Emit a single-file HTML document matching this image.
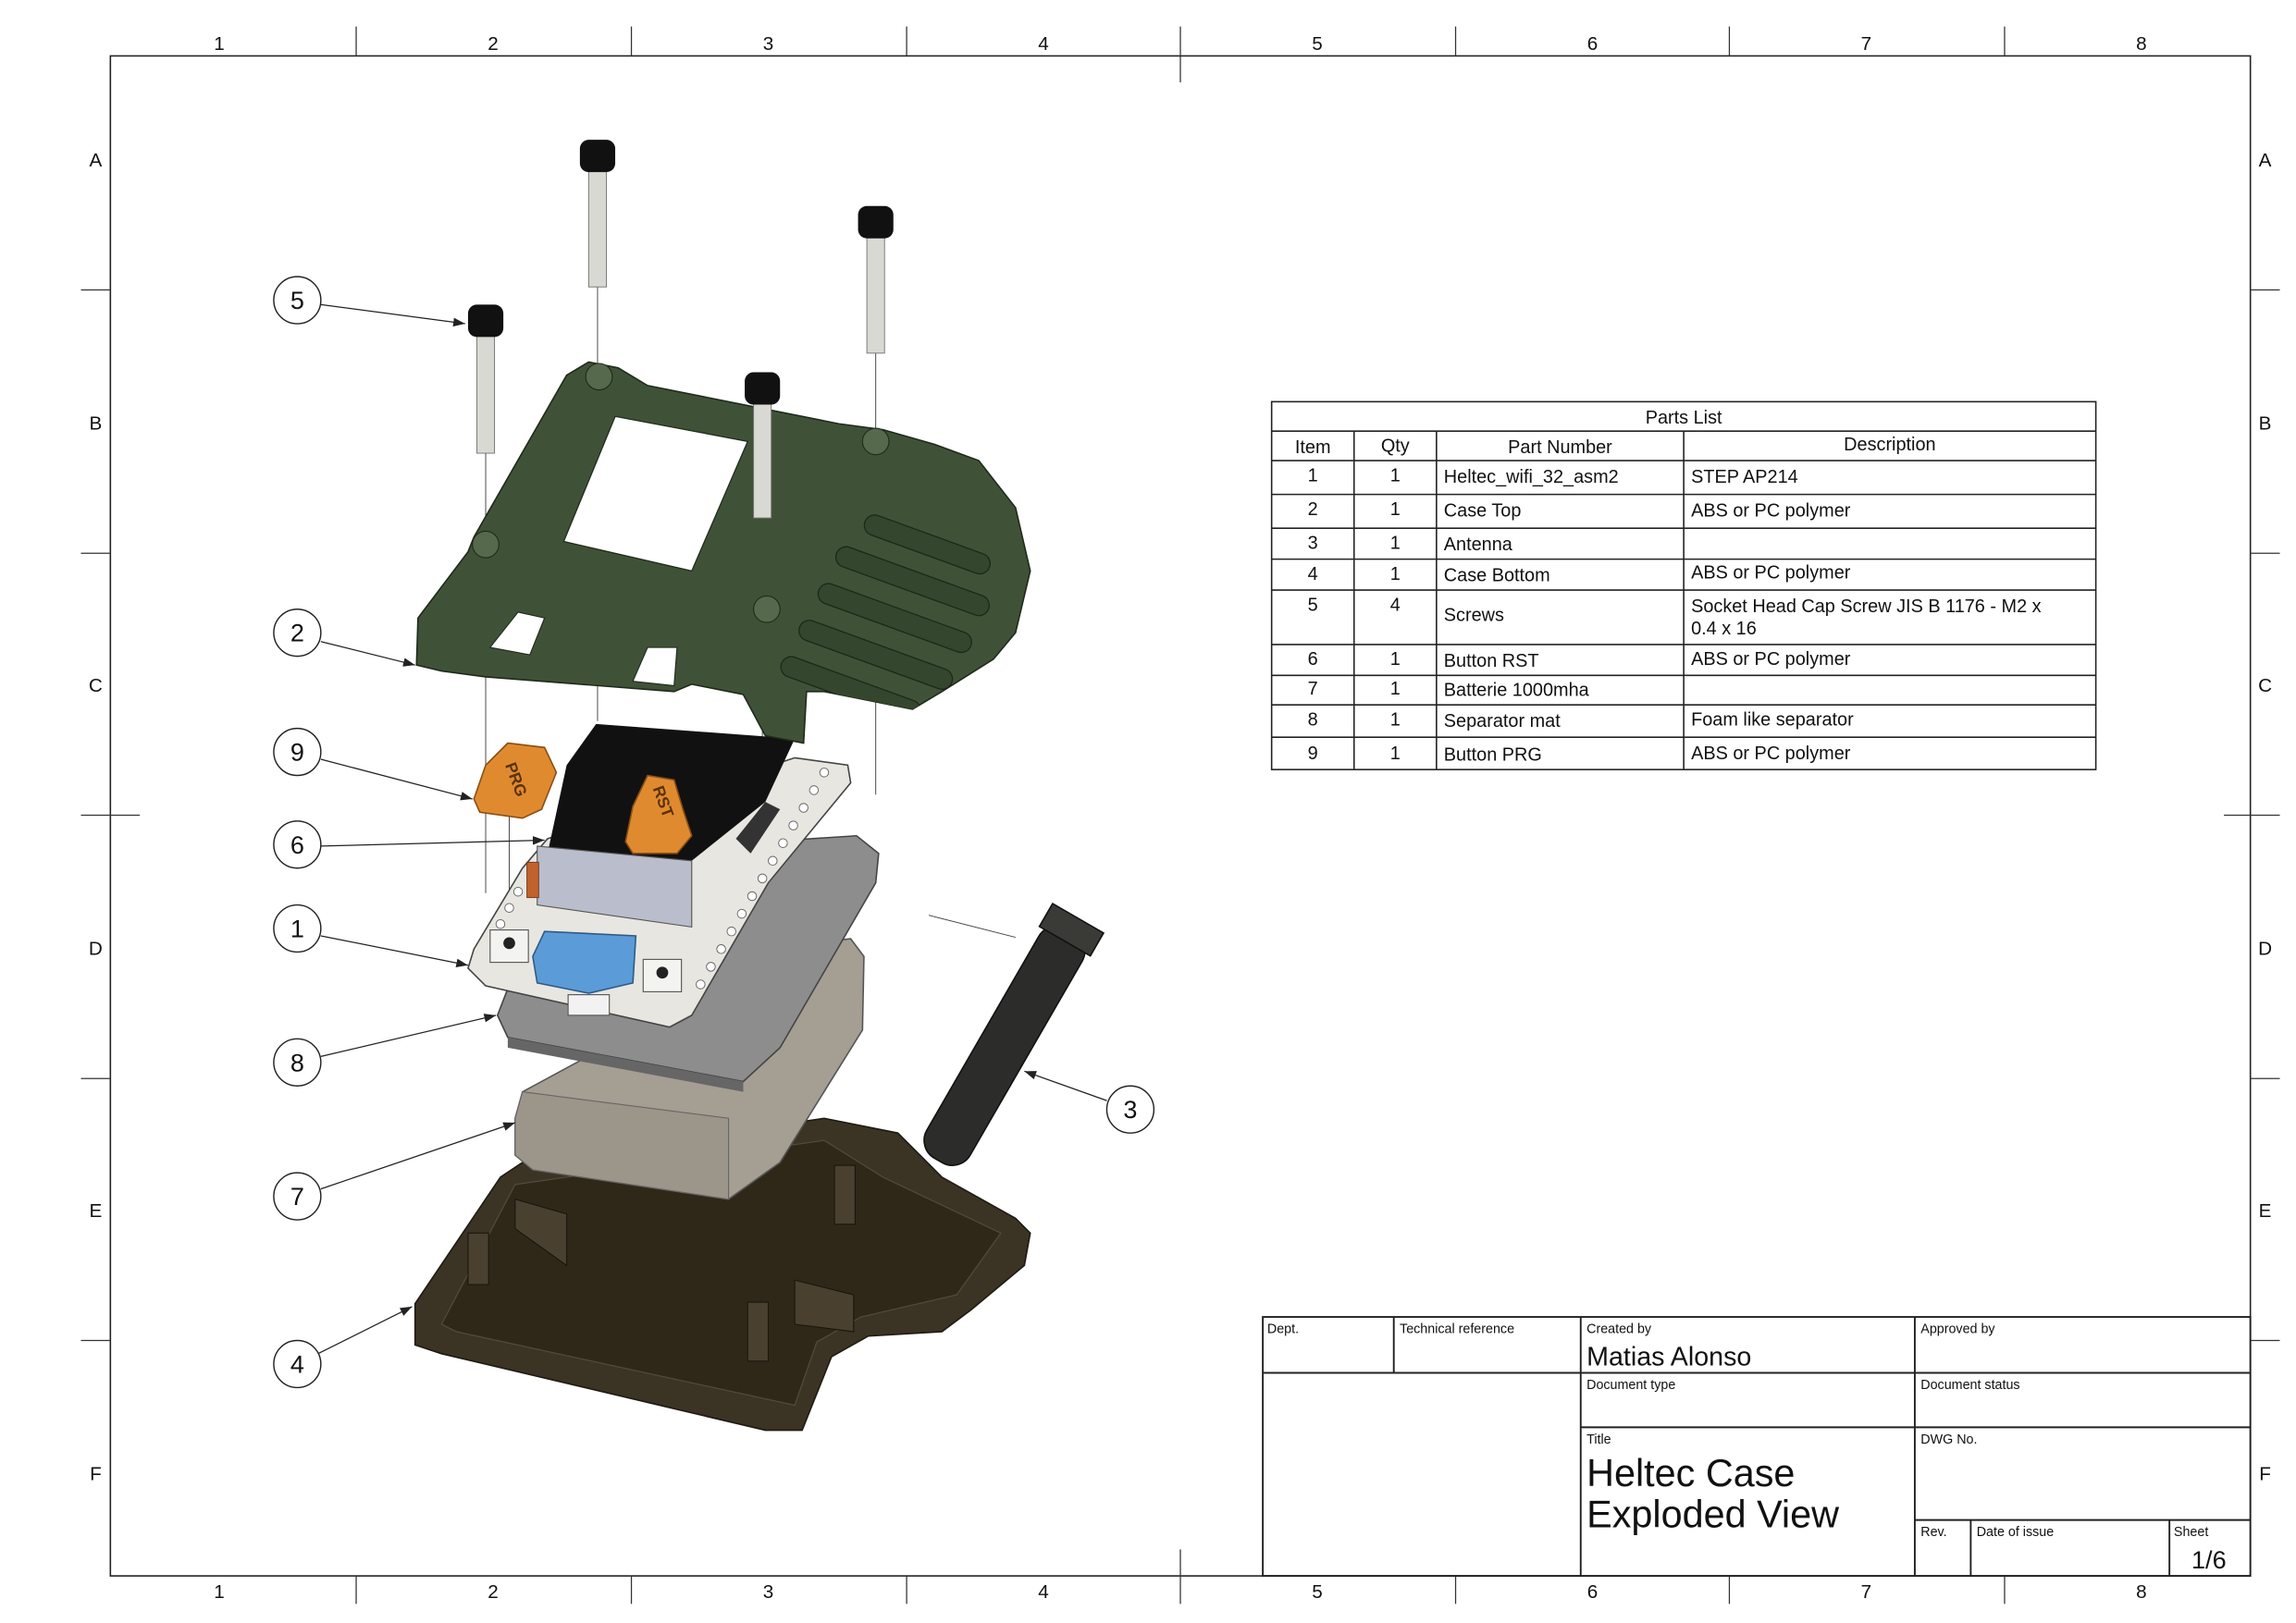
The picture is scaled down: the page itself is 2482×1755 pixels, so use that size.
<!DOCTYPE html>
<html><head><meta charset="utf-8"><style>html,body{margin:0;padding:0;background:#fff}svg{display:block}</style></head>
<body>
<svg width="2482" height="1755" viewBox="0 0 1560 1103" preserveAspectRatio="none" xmlns="http://www.w3.org/2000/svg" font-family="Liberation Sans, sans-serif">
<defs>
<marker id="ar" markerWidth="8" markerHeight="6" refX="8" refY="3" orient="auto" markerUnits="userSpaceOnUse"><path d="M0,0 L8,3 L0,6 Z" fill="#222"/></marker>
<clipPath id="ct"><path d="M283,452 L284,420 L318,375 L322,365 L385,255 L400,246 L420,250 L440,262 L570,288 L600,292 L635,302 L665,313 L690,345 L700,388 L690,430 L675,448 L640,470 L620,482 L590,476 L560,470 L548,470 L546,505 L520,500 L505,472 L470,465 L458,470 L330,460 L300,456 Z"/></clipPath>
</defs>
<rect width="1560" height="1103" fill="#fff"/>
<rect x="75" y="38" width="1454" height="1033" fill="none" stroke="#222" stroke-width="1"/>
<g stroke="#333" stroke-width="0.8">
<line x1="242" y1="18" x2="242" y2="38"/><line x1="429" y1="18" x2="429" y2="38"/><line x1="616" y1="18" x2="616" y2="38"/><line x1="802" y1="18" x2="802" y2="56"/><line x1="989" y1="18" x2="989" y2="38"/><line x1="1175" y1="18" x2="1175" y2="38"/><line x1="1362" y1="18" x2="1362" y2="38"/>
<line x1="242" y1="1071" x2="242" y2="1090"/><line x1="429" y1="1071" x2="429" y2="1090"/><line x1="616" y1="1071" x2="616" y2="1090"/><line x1="802" y1="1053" x2="802" y2="1090"/><line x1="989" y1="1071" x2="989" y2="1090"/><line x1="1175" y1="1071" x2="1175" y2="1090"/><line x1="1362" y1="1071" x2="1362" y2="1090"/>
<line x1="55" y1="197" x2="75" y2="197"/><line x1="55" y1="376" x2="75" y2="376"/><line x1="55" y1="554" x2="95" y2="554"/><line x1="55" y1="733" x2="75" y2="733"/><line x1="55" y1="911" x2="75" y2="911"/>
<line x1="1529" y1="197" x2="1549" y2="197"/><line x1="1529" y1="376" x2="1549" y2="376"/><line x1="1511" y1="554" x2="1549" y2="554"/><line x1="1529" y1="733" x2="1549" y2="733"/><line x1="1529" y1="911" x2="1549" y2="911"/>
</g>
<g font-size="13" fill="#111" text-anchor="middle">
<text x="149" y="34">1</text><text x="335" y="34">2</text><text x="522" y="34">3</text><text x="709" y="34">4</text><text x="895" y="34">5</text><text x="1082" y="34">6</text><text x="1268" y="34">7</text><text x="1455" y="34">8</text>
<text x="149" y="1086">1</text><text x="335" y="1086">2</text><text x="522" y="1086">3</text><text x="709" y="1086">4</text><text x="895" y="1086">5</text><text x="1082" y="1086">6</text><text x="1268" y="1086">7</text><text x="1455" y="1086">8</text>
<text x="65" y="113">A</text><text x="65" y="292">B</text><text x="65" y="470">C</text><text x="65" y="649">D</text><text x="65" y="827">E</text><text x="65" y="1006">F</text>
<text x="1539" y="113">A</text><text x="1539" y="292">B</text><text x="1539" y="470">C</text><text x="1539" y="649">D</text><text x="1539" y="827">E</text><text x="1539" y="1006">F</text>
</g>

<g stroke="#222" stroke-width="1" fill="none">
<rect x="864" y="273" width="560" height="250"/>
<line x1="864" y1="293" x2="1424" y2="293"/><line x1="864" y1="313" x2="1424" y2="313"/><line x1="864" y1="336" x2="1424" y2="336"/><line x1="864" y1="359" x2="1424" y2="359"/><line x1="864" y1="380" x2="1424" y2="380"/><line x1="864" y1="401" x2="1424" y2="401"/><line x1="864" y1="438" x2="1424" y2="438"/><line x1="864" y1="459" x2="1424" y2="459"/><line x1="864" y1="479" x2="1424" y2="479"/><line x1="864" y1="501" x2="1424" y2="501"/>
<line x1="920" y1="293" x2="920" y2="523"/><line x1="976" y1="293" x2="976" y2="523"/><line x1="1144" y1="293" x2="1144" y2="523"/>
</g>
<g font-size="12.5" fill="#111">
<text x="1144" y="288" text-anchor="middle">Parts List</text>
<text x="892" y="308" text-anchor="middle">Item</text><text x="948" y="307" text-anchor="middle">Qty</text><text x="1060" y="308" text-anchor="middle">Part Number</text><text x="1284" y="306" text-anchor="middle">Description</text>
<g text-anchor="middle"><text x="892" y="327">1</text><text x="892" y="350">2</text><text x="892" y="373">3</text><text x="892" y="394">4</text><text x="892" y="415">5</text><text x="892" y="452">6</text><text x="892" y="472">7</text><text x="892" y="493">8</text><text x="892" y="516">9</text>
<text x="948" y="327">1</text><text x="948" y="350">1</text><text x="948" y="373">1</text><text x="948" y="394">1</text><text x="948" y="415">4</text><text x="948" y="452">1</text><text x="948" y="472">1</text><text x="948" y="493">1</text><text x="948" y="516">1</text></g>
<text x="981" y="328">Heltec_wifi_32_asm2</text><text x="981" y="351">Case Top</text><text x="981" y="374">Antenna</text><text x="981" y="395">Case Bottom</text><text x="981" y="422">Screws</text><text x="981" y="453">Button RST</text><text x="981" y="473">Batterie 1000mha</text><text x="981" y="494">Separator mat</text><text x="981" y="517">Button PRG</text>
<text x="1149" y="328">STEP AP214</text><text x="1149" y="351">ABS or PC polymer</text><text x="1149" y="393">ABS or PC polymer</text><text x="1149" y="416">Socket Head Cap Screw JIS B 1176 - M2 x</text><text x="1149" y="431">0.4 x 16</text><text x="1149" y="452">ABS or PC polymer</text><text x="1149" y="493">Foam like separator</text><text x="1149" y="516">ABS or PC polymer</text>
</g>

<g stroke="#222" stroke-width="1.2" fill="none">
<rect x="858" y="895" width="671" height="176"/>
<line x1="858" y1="933" x2="1529" y2="933"/><line x1="1074" y1="970" x2="1529" y2="970"/>
<line x1="947" y1="895" x2="947" y2="933"/><line x1="1074" y1="895" x2="1074" y2="1071"/><line x1="1301" y1="895" x2="1301" y2="1071"/>
<line x1="1301" y1="1033" x2="1529" y2="1033"/><line x1="1339" y1="1033" x2="1339" y2="1071"/><line x1="1474" y1="1033" x2="1474" y2="1071"/>
</g>
<g fill="#111" font-size="9">
<text x="861" y="906">Dept.</text><text x="951" y="906">Technical reference</text><text x="1078" y="906">Created by</text><text x="1305" y="906">Approved by</text>
<text x="1078" y="944">Document type</text><text x="1305" y="944">Document status</text><text x="1078" y="981">Title</text><text x="1305" y="981">DWG No.</text>
<text x="1305" y="1044">Rev.</text><text x="1343" y="1044">Date of issue</text><text x="1477" y="1044">Sheet</text>
<text x="1078" y="928" font-size="18">Matias Alonso</text>
<text x="1078" y="1010" font-size="26">Heltec Case</text><text x="1078" y="1038" font-size="26">Exploded View</text>
<text x="1489" y="1066" font-size="17">1/6</text>
</g>

<g stroke="#444" stroke-width="0.6">
<line x1="330" y1="308" x2="330" y2="607"/><line x1="406" y1="195" x2="406" y2="490"/><line x1="595" y1="240" x2="595" y2="540"/><line x1="518" y1="352" x2="518" y2="525"/><line x1="346" y1="555" x2="346" y2="610"/><line x1="465" y1="580" x2="465" y2="640"/><line x1="493" y1="810" x2="493" y2="860"/><line x1="631" y1="622" x2="690" y2="637"/>
</g>

<!-- case bottom -->
<path d="M282,886 L340,800 L355,790 L560,760 L610,770 L640,800 L690,828 L700,838 L696,860 L660,890 L640,905 L590,908 L565,922 L545,972 L520,972 L300,920 L282,914 Z" fill="#3b3324" stroke="#1e1a12"/>
<path d="M300,900 L350,805 L560,775 L600,800 L680,838 L650,880 L585,895 L555,912 L540,955 L310,905 Z" fill="#2f2819" stroke="#54493a" stroke-width="0.8"/>
<g fill="#4a4030" stroke="#1a160e" stroke-width="0.7">
<rect x="318" y="838" width="14" height="35"/><rect x="508" y="885" width="14" height="40"/><rect x="567" y="792" width="14" height="40"/>
<polygon points="350,815 385,825 385,860 350,835"/><polygon points="540,870 580,880 580,905 540,900"/>
</g>

<!-- battery -->
<path d="M350,760 L355,742 L540,642 L578,638 L587,650 L586,700 L530,790 L495,815 L362,795 L350,785 Z" fill="#a49e93" stroke="#555"/>
<path d="M355,742 L495,760 L495,815 L362,795 L350,785 L350,760 Z" fill="#9c958a" stroke="#666" stroke-width="0.7"/>

<!-- mat -->
<path d="M338,690 L345,672 L520,572 L582,568 L597,580 L595,600 L530,712 L505,735 L345,705 Z" fill="#8d8d8d" stroke="#444"/>
<path d="M345,705 L505,735 L505,742 L345,712 Z" fill="#666"/>

<!-- PCB -->
<path d="M318,658 L322,645 L355,590 L372,570 L540,515 L576,520 L578,532 L522,600 L470,690 L455,698 L330,670 Z" fill="#e8e6e0" stroke="#444"/>
<path d="M372,580 L385,520 L405,492 L540,502 L520,545 L470,585 Z" fill="#111"/>
<path d="M365,575 L470,585 L470,630 L365,615 Z" fill="#b9bdcc" stroke="#555" stroke-width="0.7"/>
<path d="M500,570 L520,545 L530,550 L510,580 Z" fill="#333"/>
<g fill="#fff" stroke="#666" stroke-width="0.6">
<circle cx="560" cy="525" r="3"/><circle cx="553" cy="537" r="3"/><circle cx="546" cy="549" r="3"/><circle cx="539" cy="561" r="3"/><circle cx="532" cy="573" r="3"/><circle cx="525" cy="585" r="3"/><circle cx="518" cy="597" r="3"/><circle cx="511" cy="609" r="3"/><circle cx="504" cy="621" r="3"/><circle cx="497" cy="633" r="3"/><circle cx="490" cy="645" r="3"/><circle cx="483" cy="657" r="3"/><circle cx="476" cy="669" r="3"/>
<circle cx="340" cy="628" r="3"/><circle cx="346" cy="617" r="3"/><circle cx="352" cy="606" r="3"/>
</g>
<rect x="358" y="586" width="8" height="24" fill="#c0622e" stroke="#7a3a18" stroke-width="0.6"/>
<rect x="333" y="632" width="26" height="22" fill="#f3f3f0" stroke="#555" stroke-width="0.7"/><circle cx="346" cy="641" r="4" fill="#222"/>
<rect x="437" y="652" width="26" height="22" fill="#f3f3f0" stroke="#555" stroke-width="0.7"/><circle cx="450" cy="661" r="4" fill="#222"/>
<path d="M362,650 L370,633 L432,636 L430,668 L400,675 L365,668 Z" fill="#5b9bd8" stroke="#2e5a88"/>
<rect x="386" y="676" width="28" height="14" fill="#f2f2f2" stroke="#555" stroke-width="0.7"/>

<!-- antenna -->
<g transform="translate(680,715) rotate(30)">
<rect x="-17" y="-95" width="34" height="180" rx="14" fill="#2c2c2a" stroke="#111"/>
<rect x="-20" y="-105" width="40" height="18" fill="#3a3a36" stroke="#111"/>
</g>

<!-- case top -->
<path d="M283,452 L284,420 L318,375 L322,365 L385,255 L400,246 L420,250 L440,262 L570,288 L600,292 L635,302 L665,313 L690,345 L700,388 L690,430 L675,448 L640,470 L620,482 L590,476 L560,470 L548,470 L546,505 L520,500 L505,472 L470,465 L458,470 L330,460 L300,456 Z" fill="#3f5237" stroke="#1f2a1b"/>
<path d="M383,368 L418,283 L508,300 L470,388 Z" fill="#fff" stroke="#1f2a1b" stroke-width="0.8"/>
<path d="M333,440 L352,416 L370,420 L360,445 Z" fill="#fff" stroke="#1f2a1b" stroke-width="0.7"/>
<path d="M430,463 L440,440 L460,440 L458,466 Z" fill="#fff" stroke="#1f2a1b" stroke-width="0.7"/>
<g fill="#34462e" stroke="#1d2719" stroke-width="0.8" clip-path="url(#ct)">
<rect x="-45" y="-7" width="90" height="14" rx="7" transform="translate(630,370) rotate(20)"/>
<rect x="-55" y="-7" width="110" height="14" rx="7" transform="translate(620,395) rotate(20)"/>
<rect x="-55" y="-7" width="110" height="14" rx="7" transform="translate(608,420) rotate(20)"/>
<rect x="-55" y="-7" width="110" height="14" rx="7" transform="translate(595,445) rotate(20)"/>
<rect x="-50" y="-7" width="100" height="14" rx="7" transform="translate(578,468) rotate(20)"/>
</g>
<g fill="#56694d" stroke="#1f2a1b" stroke-width="0.7"><circle cx="407" cy="256" r="9"/><circle cx="330" cy="370" r="9"/><circle cx="595" cy="300" r="9"/><circle cx="521" cy="414" r="9"/></g>

<g fill="#d9d9d4" stroke="#777" stroke-width="0.6">
<rect x="400" y="115" width="12" height="80"/><rect x="324" y="226" width="12" height="82"/><rect x="589" y="160" width="12" height="80"/><rect x="512" y="272" width="12" height="80"/>
</g>
<g fill="#111"><rect x="394" y="95" width="24" height="22" rx="6"/><rect x="318" y="207" width="24" height="22" rx="6"/><rect x="583" y="140" width="24" height="22" rx="6"/><rect x="506" y="253" width="24" height="22" rx="6"/></g>

<path d="M322,543 L330,520 L345,505 L370,508 L378,525 L368,550 L355,556 L326,552 Z" fill="#e08a30" stroke="#8a4e14"/>
<path d="M425,572 L430,548 L440,527 L458,530 L464,550 L470,568 L460,580 L430,580 Z" fill="#e08a30" stroke="#8a4e14"/>
<text x="350" y="533" font-size="11" font-weight="bold" fill="#5a3208" transform="rotate(70 350 530)" text-anchor="middle">PRG</text>
<text x="450" y="548" font-size="11" font-weight="bold" fill="#5a3208" transform="rotate(70 450 545)" text-anchor="middle">RST</text>

<g stroke="#222" stroke-width="0.8" fill="none" marker-end="url(#ar)">
<line x1="218" y1="207" x2="316" y2="220"/><line x1="218" y1="436" x2="282" y2="452"/><line x1="218" y1="516" x2="321" y2="543"/><line x1="218" y1="575" x2="370" y2="571"/><line x1="218" y1="636" x2="318" y2="656"/><line x1="218" y1="718" x2="337" y2="690"/><line x1="218" y1="808" x2="350" y2="763"/><line x1="216" y1="920" x2="280" y2="888"/><line x1="752" y1="748" x2="696" y2="728"/>
</g>
<g fill="#fff" stroke="#222" stroke-width="0.9">
<circle cx="202" cy="204" r="16"/><circle cx="202" cy="430" r="16"/><circle cx="202" cy="511" r="16"/><circle cx="202" cy="574" r="16"/><circle cx="202" cy="631" r="16"/><circle cx="202" cy="722" r="16"/><circle cx="202" cy="813" r="16"/><circle cx="202" cy="927" r="16"/><circle cx="768" cy="754" r="16"/>
</g>
<g font-size="17" fill="#111" text-anchor="middle">
<text x="202" y="210">5</text><text x="202" y="436">2</text><text x="202" y="517">9</text><text x="202" y="580">6</text><text x="202" y="637">1</text><text x="202" y="728">8</text><text x="202" y="819">7</text><text x="202" y="933">4</text><text x="768" y="760">3</text>
</g>
</svg>
</body></html>
